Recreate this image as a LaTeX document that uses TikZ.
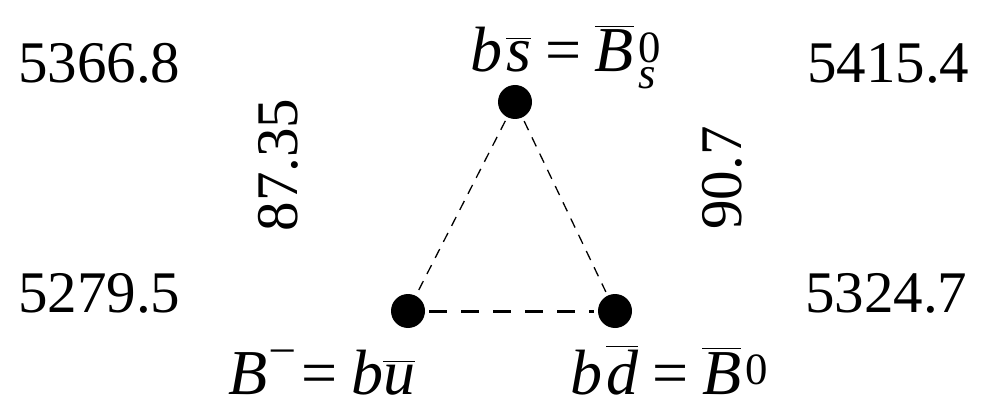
\documentclass[tikz,border=0pt]{standalone}
\usepackage{amsmath}
\usepackage{fontspec}
\setmainfont{Liberation Serif}
\newcommand{\ti}[1]{\textit{#1}}
\newcommand{\eqq}{\mathrel{\;\textup{=}\;}}
\begin{document}
\begin{tikzpicture}[x=1pt,y=-1pt,
  num/.style={anchor=base west, inner sep=0, font=\fontsize{59}{62}\selectfont},
  rnum/.style={inner sep=0, rotate=90, font=\fontsize{59}{62}\selectfont},
  lab/.style={anchor=base west, inner sep=0, font=\fontsize{64}{68}\selectfont},
  dot/.style={circle, fill=black, minimum size=34, inner sep=0},
  thindash/.style={line width=1.3, dash pattern=on 10pt off 8pt},
  thickdash/.style={line width=3, dash pattern=on 18pt off 14pt}]
\useasboundingbox (0,0) rectangle (985,406);
\node[num] (m1) at (18,83) {5366.8};
\node[num] (m2) at (807,83) {5415.4};
\node[num] (m3) at (18,312) {5279.5};
\node[num] (m4) at (805,312) {5324.7};
\node[rnum] (d1) at (278,165) {87.35};
\node[rnum] (d2) at (722,178) {90.7};
\node[dot] (bs) at (515,102) {};
\node[dot] (bu) at (408,311) {};
\node[dot] (bd) at (615,311) {};
\draw[thindash, shorten <=4pt, shorten >=4pt] (bs) -- (bu);
\draw[thindash, shorten <=4pt, shorten >=4pt] (bs) -- (bd);
\draw[thickdash, shorten <=4pt, shorten >=4pt] (bu) -- (bd);
\node[lab] (ls) at (470,72) {$\ti{b}\,\overline{\ti{s}}\eqq\overline{\ti{B}}{}^{\,\textup{0}}_{\,\ti{s}}$};
\node[lab] (lu) at (228,394) {$\ti{B}^{\,\textup{--}}\!\mathrel{\,\textup{=}\;}\ti{b}\overline{\ti{u}}$};
\node[lab] (ld) at (570,394) {$\ti{b}\,\overline{\ti{d}}\eqq\overline{\ti{B}}{}^{\,\textup{0}}$};
\end{tikzpicture}
\end{document}
